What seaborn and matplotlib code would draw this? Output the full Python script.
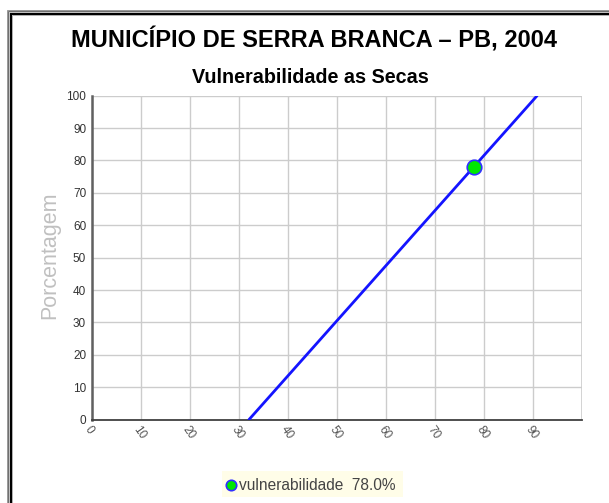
import matplotlib
matplotlib.use("Agg")
import matplotlib.pyplot as plt
import matplotlib.patches as mpatches
from matplotlib.ticker import MultipleLocator
import seaborn as sns
import pandas as pd

# data
line_x = [32.1, 90.9]
line_y = [0, 100]
point_x = [78.0]
point_y = [78.0]
legend_label = "vulnerabilidade  78.0%"
x_ticks = [0, 10, 20, 30, 40, 50, 60, 70, 80, 90]
y_ticks = [0, 10, 20, 30, 40, 50, 60, 70, 80, 90, 100]

sns.set_theme(style="white")
plt.rcParams['font.family'] = ['Liberation Sans', 'DejaVu Sans']

W, H = 609, 503
fig = plt.figure(figsize=(W / 100, H / 100), dpi=100)
fig.patch.set_facecolor("white")

# frame (double border)
def frect(x0, y0, x1, y1, color, lw):
    fig.patches.append(mpatches.Rectangle((x0 / W, 1 - y1 / H), (x1 - x0) / W, (y1 - y0) / H,
                                          transform=fig.transFigure, fill=False,
                                          edgecolor=color, linewidth=lw * 0.72))
frect(6.5, 9.5, 640, 540, "#9a9a9a", 1)
frect(7.5, 10.5, 640, 540, "#707070", 1)
frect(8.5, 11.5, 640, 540, "#c0c0c0", 1)
frect(10.5, 13.5, 640, 540, "#000000", 2)
frect(12, 15, 640, 540, "#b0b0b0", 1)

left, right, top, bottom = 91.7, 581.7, 95.7, 419.6
ax = fig.add_axes([left / W, 1 - bottom / H, (right - left) / W, (bottom - top) / H])

df_line = pd.DataFrame({"x": line_x, "y": line_y})
df_pt = pd.DataFrame({"x": point_x, "y": point_y})
sns.lineplot(data=df_line, x="x", y="y", ax=ax, color="#1414ff", linewidth=2, zorder=3)
sns.scatterplot(data=df_pt, x="x", y="y", ax=ax, color="#00e800", edgecolor="#3030ff",
                linewidth=1.2, s=110, zorder=4, clip_on=False)

ax.set_xlim(0, 100)
ax.set_ylim(0, 100)
ax.set_xticks(x_ticks)
ax.set_yticks(y_ticks)
ax.xaxis.set_minor_locator(MultipleLocator(5))
ax.yaxis.set_minor_locator(MultipleLocator(5))
ax.grid(True, which="major", color="#cccccc", linewidth=1)
ax.axvline(100, color="#cccccc", linewidth=1.2, zorder=1)
ax.axhline(100, color="#cccccc", linewidth=1.2, zorder=1)
ax.set_axisbelow(True)

for s in ["top", "right"]:
    ax.spines[s].set_visible(False)
ax.spines["left"].set_color("#606060")
ax.spines["left"].set_linewidth(1.8)
ax.spines["bottom"].set_color("#404040")
ax.spines["bottom"].set_linewidth(1.3)

ax.tick_params(axis="both", which="major", length=3, width=1, color="#808080",
               labelsize=8.5, labelcolor="#333333", pad=1, direction="out")
ax.tick_params(axis="both", which="minor", length=2, width=1, color="#a0a0a0")
ax.tick_params(axis="x", which="major", length=0, pad=3)
ax.tick_params(axis="x", which="minor", length=0)
for lbl in ax.get_xticklabels():
    lbl.set_rotation(-55)
    lbl.set_ha("left")
    lbl.set_va("top")
    lbl.set_rotation_mode("anchor")
    lbl.set_color("#555555")
    lbl.set_fontsize(8.5)

ax.set_xlabel("")
ax.set_ylabel("Porcentagem", fontsize=15.5, color="#c0c0c0")
ax.yaxis.set_label_coords(-0.064, 0.508)

fig.text(314 / W, 1 - 40 / H, "MUNICÍPIO DE SERRA BRANCA – PB, 2004", ha="center", va="center",
         fontsize=17, fontweight="bold", color="black")
fig.text(310 / W, 1 - 77 / H, "Vulnerabilidade as Secas", ha="center", va="center",
         fontsize=14.2, fontweight="bold", color="black")

# legend
fig.patches.append(mpatches.Rectangle((222 / W, 1 - 497 / H), (403 - 222) / W, (497 - 471) / H,
                                      transform=fig.transFigure, facecolor="#fffde8",
                                      edgecolor="none"))
fig.lines.append(plt.Line2D([230.5 / W], [1 - 485 / H], transform=fig.transFigure, marker="o",
                            markersize=7.5, markerfacecolor="#00e800", markeredgecolor="#3030ff",
                            markeredgewidth=1.2, linestyle="none"))
fig.text(239 / W, 1 - 485 / H, legend_label, ha="left", va="center", fontsize=11.2,
         color="#444444")

fig.savefig("out.png", dpi=100, facecolor="white")
